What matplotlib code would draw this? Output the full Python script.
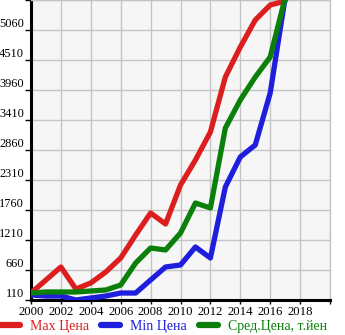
import matplotlib
matplotlib.use("Agg")
import matplotlib.pyplot as plt

years = list(range(2000, 2018))
max_price = [238, 477, 715, 312, 422, 623, 880, 1302, 1705, 1503, 2218, 2677, 3190, 4198, 4748, 5243, 5518, 5590]
min_price = [202, 183, 183, 110, 147, 183, 238, 238, 477, 715, 752, 1082, 880, 2182, 2732, 2952, 3905, 5650]
avg_price = [238, 257, 257, 257, 275, 293, 385, 788, 1063, 1027, 1338, 1888, 1797, 3263, 3777, 4198, 4565, 5650]

series_names = ["Max Цена", "Min Цена", "Сред.Цена, т.йен"]
series_colors = ["#dc1e1e", "#1e1edc", "#0a800a"]

yticks = [110, 660, 1210, 1760, 2310, 2860, 3410, 3960, 4510, 5060]
xticks = list(range(2000, 2021, 2))

plt.rcParams["font.family"] = ["Liberation Serif", "DejaVu Serif"]

W, H = 345, 335
fig = plt.figure(figsize=(W / 100, H / 100), dpi=100)
ax = fig.add_axes([31 / W, 35 / H, 299 / W, 300 / H])
ax.set_facecolor("#f6f6f6")

lines = []
for vals, name, col in zip([max_price, min_price, avg_price], series_names, series_colors):
    ln, = ax.plot(years, vals, color=col, lw=3.8, solid_joinstyle="round",
                  solid_capstyle="round", label=name, zorder=3)
    lines.append(ln)

ax.set_xlim(2000, 2020)
ax.set_ylim(110, 5610)
ax.set_xticks(xticks)
ax.set_xticklabels([str(x) for x in xticks[:-1]] + [""])
ax.set_yticks(yticks + [5610])
ax.set_yticklabels([str(v) for v in yticks] + [""])
ax.grid(True, color="#c4c4c4", lw=1)
ax.set_axisbelow(True)

for side in ["top", "right"]:
    ax.spines[side].set_color("#c4c4c4")
    ax.spines[side].set_linewidth(1)
ax.spines["left"].set_linewidth(2.2)
ax.spines["bottom"].set_linewidth(2.2)

ax.tick_params(axis="y", length=4, width=1, pad=1, labelsize=8.9)
ax.tick_params(axis="x", length=3, width=1, pad=1, labelsize=9.2)
for lbl in ax.get_yticklabels():
    lbl.set_verticalalignment("bottom")

leg = fig.legend(handles=lines, loc="lower left", bbox_to_anchor=(-0.004, 0.0),
                 ncol=3, frameon=False, fontsize=10, handlelength=1.4,
                 handletextpad=0.7, columnspacing=0.85, borderaxespad=0,
                 borderpad=0.15)
for txt, col in zip(leg.get_texts(), series_colors):
    txt.set_color(col)
for h in leg.legend_handles:
    h.set_linewidth(4.5)

fig.savefig("out.png", dpi=100)
